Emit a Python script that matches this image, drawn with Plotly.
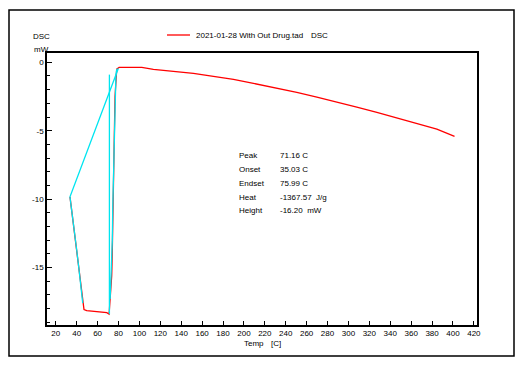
import plotly.graph_objects as go

# ---- data ----
temp_red = [33.6, 34.5, 36.0, 38.0, 40.0, 42.0, 44.0, 45.8, 47.0, 49.6, 55.0, 59.2, 65.0, 68.8, 71.0,
            71.9, 73.0, 73.5, 74.1, 74.5, 75.2, 75.8, 76.7, 77.5, 78.3, 80.6,
            102.3, 113.4, 132.5, 151.7, 170.8, 190.0, 209.1, 228.3, 250.6, 269.8,
            288.9, 308.0, 327.2, 346.3, 365.5, 384.6, 401.5]
dsc_red = [-9.83, -10.4, -11.2, -12.4, -13.7, -15.0, -16.3, -17.6, -18.07, -18.15, -18.2, -18.25, -18.28, -18.3, -18.4,
           -17.6, -16.0, -15.6, -13.7, -10.7, -8.0, -6.2, -2.5, -1.0, -0.5, -0.37,
           -0.37, -0.51, -0.64, -0.81, -1.03, -1.25, -1.54, -1.83, -2.2, -2.54,
           -2.88, -3.27, -3.66, -4.05, -4.49, -4.88, -5.41]

# integration construction (baseline, descending flank, peak line, rising flank)
temp_cyan = [79.9, 33.6, 34.5, 36.0, 38.0, 40.0, 42.0, 44.0, 45.8, None,
             71.3, 71.3, None, 72.0, 73.0, 74.1, 74.5, 75.2, 75.8, 76.7, 77.5, 78.3]
dsc_cyan = [-0.44, -9.83, -10.4, -11.2, -12.4, -13.7, -15.0, -16.3, -17.6, None,
            -18.4, -0.9, None, -17.3, -15.6, -13.0, -10.7, -8.0, -6.2, -2.5, -1.0, -0.5]

x_ticks = list(range(20, 421, 20))
y_ticks = [0, -5, -10, -15]

legend_name = "2021-01-28 With Out Drug.tad"
legend_suffix = "DSC"
info_labels = ["Peak", "Onset", "Endset", "Heat", "Height"]
info_values = ["71.16 C", "35.03 C", "75.99 C", "-1367.57&nbsp;&nbsp;J/g", "-16.20&nbsp;&nbsp;mW"]

FONT = "Liberation Sans, Arial, sans-serif"

fig = go.Figure()
fig.add_trace(go.Scatter(x=temp_red, y=dsc_red, mode="lines",
                         line=dict(color="#ff0000", width=1.3), showlegend=False,
                         connectgaps=False))
fig.add_trace(go.Scatter(x=temp_cyan, y=dsc_cyan, mode="lines",
                         line=dict(color="#00e5f0", width=1.3), showlegend=False,
                         connectgaps=False))

OFF = 8  # page body margin offset
W, H = 525 - OFF, 365 - OFF
L, R, T, B = 47, 477, 53, 325  # plot area in window pixels
pw, ph = R - L, B - T

def px(xp):
    return (xp - L) / pw

def py(yp):
    return (B - yp) / ph

shapes = [
    dict(type="rect", xref="paper", yref="paper", x0=px(9), x1=px(514), y0=py(356), y1=py(10),
         line=dict(color="black", width=1.5)),
    dict(type="line", xref="paper", yref="paper", x0=px(167), x1=px(190), y0=py(35), y1=py(35),
         line=dict(color="#ff0000", width=1.3)),
]

def ann(text, x, y, size=8):
    return dict(text=text, xref="paper", yref="paper", x=px(x), y=py(y), xanchor="left",
                yanchor="middle", showarrow=False, font=dict(size=size, color="black", family=FONT))

annotations = [
    ann(legend_name, 194, 35),
    ann(legend_suffix, 309, 35),
    ann("DSC", 31, 37),
    ann("mW", 32, 49),
    ann("Temp", 242, 343),
    ann("[C]", 269, 343),
]
for i, (lab, val) in enumerate(zip(info_labels, info_values)):
    yy = 155 + i * 14
    annotations.append(ann(lab, 237, yy))
    annotations.append(ann(val, 278, yy))

fig.update_layout(
    width=W, height=H,
    margin=dict(l=L - OFF, r=525 - R, t=T - OFF, b=365 - B, pad=0),
    paper_bgcolor="white", plot_bgcolor="white",
    font=dict(family=FONT, size=8, color="black"),
    shapes=shapes, annotations=annotations,
    showlegend=False,
)
fig.update_xaxes(range=[11.6, 423], tickvals=x_ticks, ticktext=[str(v) for v in x_ticks],
                 showgrid=False, zeroline=False, showline=True, linecolor="black", linewidth=1.5,
                 mirror=True, ticks="inside", ticklen=4, tickcolor="black", tickwidth=1,
                 tickfont=dict(size=8, family=FONT, color="black"))
fig.update_yaxes(range=[-19.2, 0.68], tickvals=y_ticks, ticktext=[str(v) for v in y_ticks],
                 showgrid=False, zeroline=False, showline=True, linecolor="black", linewidth=1.5,
                 mirror=True, ticks="inside", ticklen=5, tickcolor="black", tickwidth=1,
                 tickfont=dict(size=8, family=FONT, color="black"),
                 minor=dict(dtick=1, tick0=0, ticks="inside", ticklen=3, tickcolor="black",
                            showgrid=False))

fig.write_html("out.html")
